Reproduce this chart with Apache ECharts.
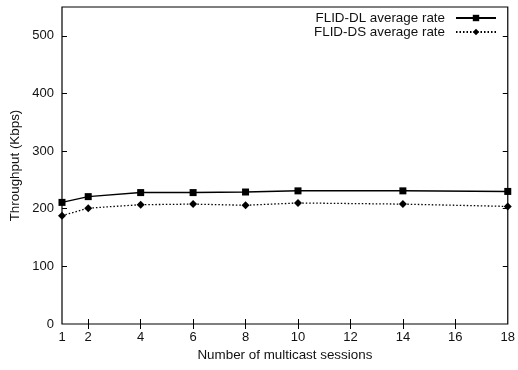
<!DOCTYPE html>
<html><head><meta charset="utf-8">
<script src="https://cdn.jsdelivr.net/npm/echarts@6/dist/echarts.min.js"></script>
<style>html,body{margin:0;padding:0;background:#fff}#c{width:518px;height:370px}</style>
</head><body><div id="c"></div>
<script>
const sessions = [1, 2, 4, 6, 8, 10, 14, 18];
const dlRate = [211, 221, 228, 228, 229, 231, 231, 230];
const dsRate = [188, 201, 207, 208, 206, 210, 208, 204];
const xLabels = [1, 2, 4, 6, 8, 10, 12, 14, 16, 18];
const xTicks = [2, 4, 6, 8, 10, 12, 14, 16];
const yLabels = [0, 100, 200, 300, 400, 500];
const yTicks = [100, 200, 300, 400, 500];
const seriesNames = ['FLID-DL average rate', 'FLID-DS average rate'];

const font = 'Liberation Sans, Arial, sans-serif';
const txt = '#111';
const chart = echarts.init(document.getElementById('c'), null, {renderer: 'canvas'});
const pair = (xs, ys) => xs.map((x, i) => [x, ys[i]]);
chart.setOption({
  animation: false,
  textStyle: {fontFamily: font},
  grid: {left: 62, right: 5, top: 7, bottom: 46, show: true, borderColor: '#000', borderWidth: 1.2, containLabel: false},
  legend: {
    right: 16, top: 6, orient: 'vertical', align: 'right', itemWidth: 40, itemHeight: 8, itemGap: 0,
    textStyle: {fontFamily: font, fontSize: 13.4, color: txt, lineHeight: 14, padding: [0, 6, 0, 0]},
    data: seriesNames
  },
  xAxis: [{
    type: 'value', min: 1, max: 18, position: 'bottom',
    name: 'Number of multicast sessions', nameLocation: 'middle', nameGap: 23,
    nameTextStyle: {fontFamily: font, fontSize: 13.4, color: txt},
    axisLine: {show: false},
    splitLine: {show: false},
    axisTick: {show: true, inside: true, length: 5, lineStyle: {color: '#000'}, customValues: xTicks},
    axisLabel: {fontFamily: font, fontSize: 13, color: txt, margin: 7, customValues: xLabels}
  }, {
    type: 'value', min: 1, max: 18, position: 'top',
    axisLine: {show: false}, splitLine: {show: false},
    axisTick: {show: true, inside: true, length: 5, lineStyle: {color: '#000'}, customValues: xTicks},
    axisLabel: {show: false}
  }],
  yAxis: [{
    type: 'value', min: 0, max: 550, position: 'left',
    name: 'Throughput (Kbps)', nameLocation: 'middle', nameGap: 38,
    nameTextStyle: {fontFamily: font, fontSize: 13.4, color: txt},
    axisLine: {show: false}, splitLine: {show: false},
    axisTick: {show: true, inside: true, length: 5, lineStyle: {color: '#000'}, customValues: yTicks},
    axisLabel: {fontFamily: font, fontSize: 13, color: txt, margin: 8, customValues: yLabels}
  }, {
    type: 'value', min: 0, max: 550, position: 'right',
    axisLine: {show: false}, splitLine: {show: false},
    axisTick: {show: true, inside: true, length: 5, lineStyle: {color: '#000'}, customValues: yTicks},
    axisLabel: {show: false}
  }],
  series: [{
    name: seriesNames[0], type: 'line', data: pair(sessions, dlRate),
    symbol: 'rect', symbolSize: 7, showAllSymbol: true,
    lineStyle: {color: '#000', width: 1.5, type: 'solid'},
    itemStyle: {color: '#000'}
  }, {
    name: seriesNames[1], type: 'line', data: pair(sessions, dsRate),
    symbol: 'diamond', symbolSize: 8, showAllSymbol: true,
    lineStyle: {color: '#000', width: 1.3, type: [1.5, 2]},
    itemStyle: {color: '#000'}
  }]
});
</script></body></html>
